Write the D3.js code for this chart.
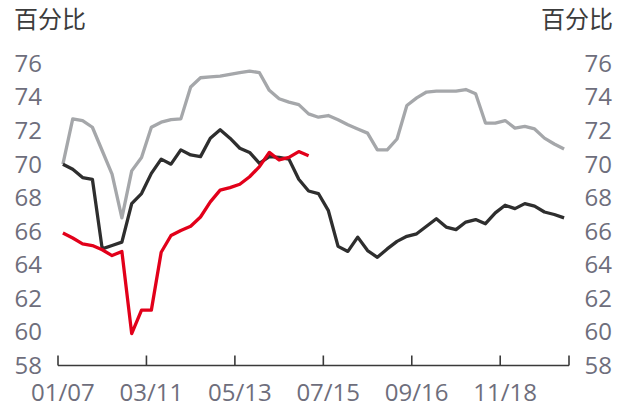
<!DOCTYPE html>
<html>
<head>
<meta charset="utf-8">
<script src="https://cdn.jsdelivr.net/npm/d3@7"></script>
<style>
  body { margin: 0; background: #fff; }
  svg text { font-family: "Open Sans", "Noto Sans", sans-serif; }
  .unit { font-family: "Noto Sans CJK SC", sans-serif !important; fill: #3c3c3c; font-size: 24px; }
  .tick-label { fill: #6e6e7c; font-size: 24px; }
</style>
</head>
<body>
<div id="chart"></div>
<script>
// weekly observations
var weeks = ["01/07","01/14","01/21","01/28","02/04","02/11","02/18","02/25",
  "03/04","03/11","03/18","03/25","04/01","04/08","04/15","04/22","04/29",
  "05/06","05/13","05/20","05/27","06/03","06/10","06/17","06/24",
  "07/01","07/08","07/15","07/22","07/29","08/05","08/12","08/19","08/26",
  "09/02","09/09","09/16","09/23","09/30","10/07","10/14","10/21","10/28",
  "11/04","11/11","11/18","11/25","12/02","12/09","12/16","12/23","12/30"];

var xTickLabels = ["01/07", "03/11", "05/13", "07/15", "09/16", "11/18"];
var yTicks = [58, 60, 62, 64, 66, 68, 70, 72, 74, 76];

var greySeries = [70.0, 72.7, 72.6, 72.2, 70.8, 69.4, 66.8, 69.6, 70.4, 72.2,
  72.5, 72.65, 72.7, 74.6, 75.15, 75.2, 75.25, 75.35, 75.45, 75.55, 75.45,
  74.4, 73.9, 73.7, 73.55, 73.0, 72.8, 72.9, 72.65, 72.35, 72.1, 71.85,
  70.85, 70.85, 71.5, 73.5, 73.95, 74.3, 74.35, 74.35, 74.35, 74.45, 74.2,
  72.45, 72.45, 72.6, 72.15, 72.25, 72.1, 71.55, 71.2, 70.9];

var blackSeries = [70.0, 69.7, 69.2, 69.1, 64.95, 65.15, 65.35, 67.65, 68.25,
  69.45, 70.3, 70.0, 70.85, 70.55, 70.45, 71.55, 72.05, 71.55, 70.95, 70.7,
  70.05, 70.45, 70.4, 70.3, 69.1, 68.4, 68.25, 67.25, 65.1, 64.8, 65.65,
  64.85, 64.45, 64.95, 65.4, 65.7, 65.85, 66.3, 66.75, 66.25, 66.1, 66.55,
  66.7, 66.45, 67.1, 67.55, 67.35, 67.65, 67.5, 67.15, 67.0, 66.8];

var redSeries = [65.9, 65.6, 65.25, 65.15, 64.9, 64.55, 64.8, 59.9, 61.3, 61.3,
  64.75, 65.75, 66.05, 66.3, 66.85, 67.75, 68.45, 68.6, 68.8, 69.25, 69.85,
  70.7, 70.25, 70.4, 70.75, 70.5];

var w = 622, h = 409;

var svg = d3.select("#chart").append("svg")
    .attr("width", w)
    .attr("height", h);

var x = d3.scaleBand()
    .domain(weeks)
    .range([58, 569]);

var y = d3.scaleLinear()
    .domain([58, 76])
    .range([365.5, 63.5]);

// x axis: baseline with inward ticks on band edges
var axisY = y(58);
svg.append("line")
    .attr("x1", x.range()[0]).attr("x2", x.range()[1])
    .attr("y1", axisY).attr("y2", axisY)
    .style("stroke", "#3a3a3a")
    .style("stroke-width", 1.6);

var tickXs = xTickLabels.map(function (d) { return x(d); }).concat([x.range()[1]]);
svg.selectAll("line.xtick")
    .data(tickXs)
  .enter().append("line")
    .attr("class", "xtick")
    .attr("x1", function (d) { return d; }).attr("x2", function (d) { return d; })
    .attr("y1", axisY).attr("y2", axisY - 10)
    .style("stroke", "#3a3a3a")
    .style("stroke-width", 1.6);

svg.selectAll("text.xlabel")
    .data(xTickLabels)
  .enter().append("text")
    .attr("class", "tick-label xlabel")
    .attr("x", function (d) { return x(d) + x.bandwidth() / 2; })
    .attr("y", 401)
    .attr("text-anchor", "middle")
    .text(function (d) { return d; });

// y labels, both sides
svg.selectAll("text.yl")
    .data(yTicks)
  .enter().append("text")
    .attr("class", "tick-label yl")
    .attr("x", 42)
    .attr("y", function (d) { return y(d); })
    .attr("dy", "0.35em")
    .attr("text-anchor", "end")
    .text(function (d) { return d; });

svg.selectAll("text.yr")
    .data(yTicks)
  .enter().append("text")
    .attr("class", "tick-label yr")
    .attr("x", 612)
    .attr("y", function (d) { return y(d); })
    .attr("dy", "0.35em")
    .attr("text-anchor", "end")
    .text(function (d) { return d; });

svg.append("text")
    .attr("class", "unit")
    .attr("x", 14)
    .attr("y", 28)
    .text("百分比");

svg.append("text")
    .attr("class", "unit")
    .attr("x", 613)
    .attr("y", 28)
    .attr("text-anchor", "end")
    .text("百分比");

var line = d3.line()
    .x(function (d, i) { return x(weeks[i]) + x.bandwidth() / 2; })
    .y(function (d) { return y(d); });

var series = [
  { values: greySeries, color: "#a5a7aa" },
  { values: blackSeries, color: "#2e2e2e" },
  { values: redSeries, color: "#e2001a" }
];

svg.selectAll("path.series")
    .data(series)
  .enter().append("path")
    .attr("class", "series")
    .attr("d", function (d) { return line(d.values); })
    .style("fill", "none")
    .style("stroke", function (d) { return d.color; })
    .style("stroke-width", 3.3)
    .style("stroke-linejoin", "round");
</script>
</body>
</html>
